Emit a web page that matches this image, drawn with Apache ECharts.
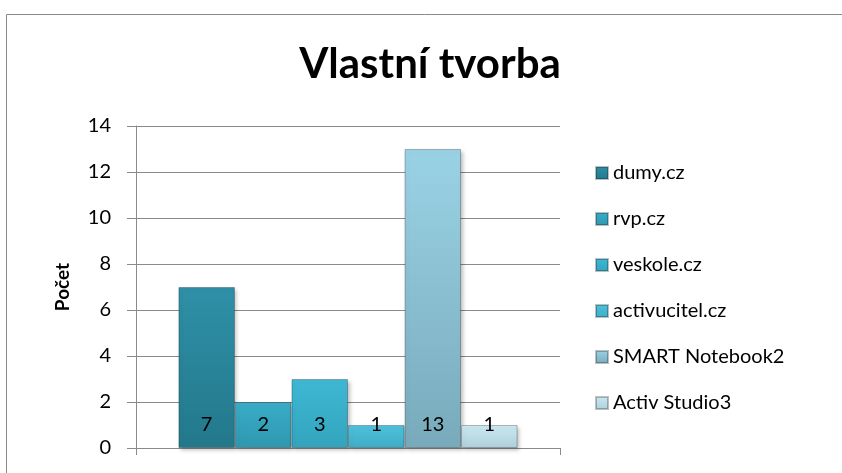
<!DOCTYPE html>
<html>
<head>
<meta charset="utf-8">
<script src="https://cdn.jsdelivr.net/npm/echarts@6/dist/echarts.min.js"></script>
<style>
  html, body { margin: 0; padding: 0; background: #fff; }
  #chart { width: 842px; height: 473px; }
</style>
</head>
<body>
<div id="chart"></div>
<script>
// data
const seriesNames = ['dumy.cz', 'rvp.cz', 'veskole.cz', 'activucitel.cz', 'SMART Notebook2', 'Activ Studio3']
const seriesValues = [7, 2, 3, 1, 13, 1]
const yTicks = { min: 0, max: 14, interval: 2 }

// barvy (nahoře -> dole)
const colorStops = [
  ['#2e90a7', '#23788b'],
  ['#3aacc7', '#2f97b0'],
  ['#3fb8d3', '#33a4be'],
  ['#50c2dc', '#3eacc6'],
  ['#9ad2e5', '#78aabb'],
  ['#cbe8f0', '#aed0db']
]

const chart = echarts.init(document.getElementById('chart'))

const series = seriesNames.map((name, i) => ({
  name: name,
  type: 'bar',
  data: [seriesValues[i]],
  barGap: '0%',
  barCategoryGap: '20%',
  itemStyle: {
    color: new echarts.graphic.LinearGradient(0, 0, 0, 1, [
      { offset: 0, color: colorStops[i][0] },
      { offset: 1, color: colorStops[i][1] }
    ]),
    borderColor: 'rgba(0,0,0,0.25)',
    borderWidth: 1,
    shadowBlur: 4,
    shadowOffsetX: 2,
    shadowOffsetY: 2,
    shadowColor: 'rgba(0,0,0,0.25)'
  },
  label: {
    show: true,
    position: 'insideBottom',
    distance: 13,
    color: '#000',
    fontSize: 20,
    fontFamily: 'Lato'
  }
}))

chart.setOption({
  animation: false,
  textStyle: { fontFamily: 'Lato' },
  graphic: [{
    type: 'rect',
    shape: { x: 6.5, y: 14.5, width: 900, height: 500 },
    style: { fill: 'none', stroke: '#8a8a8a', lineWidth: 1 },
    silent: true
  }],
  title: {
    text: 'Vlastní tvorba',
    left: 425,
    textAlign: 'center',
    top: 38,
    textStyle: { fontSize: 42, fontWeight: 'bold', color: '#000', fontFamily: 'Lato' }
  },
  legend: {
    orient: 'vertical',
    left: 590,
    top: 157,
    icon: 'rect',
    itemWidth: 12,
    itemHeight: 12,
    itemGap: 24,
    textStyle: { fontSize: 20, color: '#000', lineHeight: 22, fontFamily: 'Lato' },
    data: seriesNames
  },
  grid: { left: 136, right: 282, top: 126, bottom: 25 },
  xAxis: {
    type: 'category',
    data: [''],
    axisLine: { lineStyle: { color: '#8a8a8a', width: 1 } },
    axisTick: { show: true, length: 7, lineStyle: { color: '#8a8a8a' } },
    axisLabel: { show: false }
  },
  yAxis: {
    type: 'value',
    min: yTicks.min,
    max: yTicks.max,
    interval: yTicks.interval,
    name: 'Počet',
    nameLocation: 'middle',
    nameGap: 64,
    nameRotate: 90,
    nameTextStyle: { fontSize: 19, fontWeight: 'bold', color: '#000', fontFamily: 'Lato' },
    axisLine: { show: true, lineStyle: { color: '#8a8a8a', width: 1 } },
    axisTick: { show: true, length: 9, lineStyle: { color: '#8a8a8a' } },
    axisLabel: { fontSize: 20, color: '#000', margin: 25, fontFamily: 'Lato' },
    splitLine: { lineStyle: { color: '#8a8a8a', width: 1 } }
  },
  series: series
})
</script>
</body>
</html>
